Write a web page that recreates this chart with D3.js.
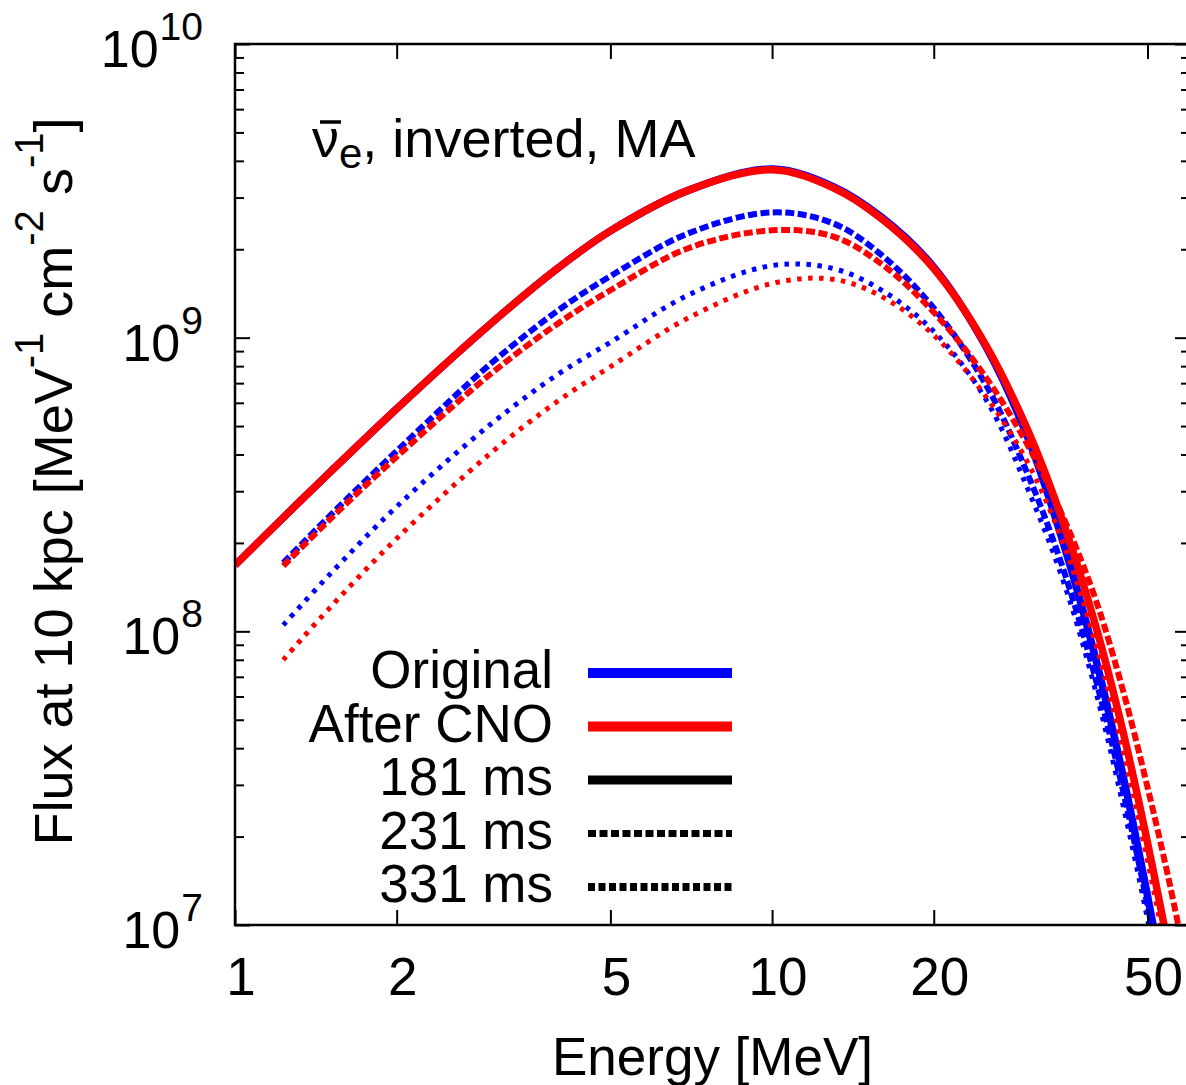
<!DOCTYPE html>
<html><head><meta charset="utf-8">
<script src="https://cdn.jsdelivr.net/npm/d3@7"></script>
<style>
body{margin:0;background:#fff}
text{font-family:"Liberation Sans",Arial,Helvetica,sans-serif;fill:#000}
</style>
</head><body>
<svg id="chart" width="1186" height="1085"></svg>
<script>
// ---------------- data ----------------
const energy181 = [1, 1.23, 1.5, 2, 3, 4, 5, 7, 10, 13, 16, 20, 25, 30, 35, 40, 45, 50, 55, 60];
const energyLate = [1.23, 1.5, 2, 3, 4, 5, 7, 10, 13, 16, 20, 25, 30, 35, 40, 45, 50, 55, 60];

const original181 = [1.68e8, 2.44e8, 3.47e8, 5.73e8, 1.12e9, 1.73e9, 2.31e9, 3.18e9, 3.75e9, 3.27e9, 2.57e9, 1.74e9, 9.33e8, 4.52e8, 1.95e8, 8.13e7, 3.24e7, 1.26e7, 5.01e6, 2.00e6];
const cno181      = [1.68e8, 2.44e8, 3.47e8, 5.73e8, 1.12e9, 1.73e9, 2.31e9, 3.18e9, 3.73e9, 3.24e9, 2.54e9, 1.72e9, 9.44e8, 4.79e8, 2.29e8, 1.05e8, 4.57e7, 1.91e7, 7.94e6, 3.31e6];
const original231 = [1.71e8, 2.47e8, 4.11e8, 8.18e8, 1.24e9, 1.62e9, 2.27e9, 2.67e9, 2.45e9, 1.91e9, 1.26e9, 6.92e8, 3.39e8, 1.59e8, 6.92e7, 2.88e7, 1.17e7, 4.79e6, 1.91e6];
const cno231      = [1.67e8, 2.40e8, 3.93e8, 7.55e8, 1.12e9, 1.45e9, 2.02e9, 2.32e9, 2.21e9, 1.78e9, 1.22e9, 7.33e8, 4.27e8, 2.40e8, 1.29e8, 6.31e7, 2.95e7, 1.38e7, 6.31e6];
const original331 = [1.05e8, 1.56e8, 2.66e8, 5.09e8, 7.52e8, 9.64e8, 1.40e9, 1.76e9, 1.72e9, 1.45e9, 1.05e9, 6.17e8, 3.02e8, 1.45e8, 6.31e7, 2.57e7, 1.05e7, 4.27e6, 1.78e6];
const cno331      = [8.00e7, 1.20e8, 2.07e8, 4.06e8, 6.10e8, 7.96e8, 1.17e9, 1.53e9, 1.58e9, 1.38e9, 1.02e9, 6.31e8, 3.72e8, 1.95e8, 9.12e7, 3.98e7, 1.66e7, 6.92e6, 2.88e6];

const xTickValues = [1, 2, 5, 10, 20, 50];
const xTickLabels = ["1", "2", "5", "10", "20", "50"];
const yDecades = [7, 8, 9, 10];
const legendLabels = ["Original", "After CNO", "181 ms", "231 ms", "331 ms"];
const titleParts = ["ν", "e", ", inverted, MA"];
const xTitle = "Energy [MeV]";

// ---------------- layout ----------------
const svg = d3.select("#chart");
svg.append("rect").attr("width", 1186).attr("height", 1085).attr("fill", "#fff");
const P = {left: 235, top: 44, right: 1190, bottom: 925};
const x = d3.scaleLog().domain([1, 60]).range([P.left, P.right]);
const y = d3.scaleLog().domain([1e7, 1e10]).range([P.bottom, P.top]);
const FS = 53;

const BLUE = "#0000ff", RED = "#ff0000";
const styles = {
  s181: {dash: null, w: 7.5},
  s231: {dash: "9,3.5", w: 6},
  s331: {dash: "4.5,6.5", w: 5}
};
const series = [
  {E: energy181, v: original181, c: BLUE, st: styles.s181},
  {E: energyLate, v: original231, c: BLUE, st: styles.s231},
  {E: energyLate, v: original331, c: BLUE, st: styles.s331},
  {E: energy181, v: cno181, c: RED, st: styles.s181},
  {E: energyLate, v: cno231, c: RED, st: styles.s231},
  {E: energyLate, v: cno331, c: RED, st: styles.s331}
];

svg.append("clipPath").attr("id", "clip").append("rect")
  .attr("x", P.left).attr("y", P.top).attr("width", P.right - P.left).attr("height", P.bottom - P.top);

const line = d3.line().x(d => x(d[0])).y(d => y(d[1])).curve(d3.curveCatmullRom.alpha(0.5));
const gCurves = svg.append("g").attr("clip-path", "url(#clip)");
series.forEach(s => {
  const pts = s.E.map((e, i) => [e, s.v[i]]);
  gCurves.append("path").attr("d", line(pts)).attr("fill", "none")
    .attr("stroke", s.c).attr("stroke-width", s.st.w)
    .attr("stroke-dasharray", s.st.dash).attr("stroke-linejoin", "round");
});

// ---------------- axes / ticks ----------------
const minorY = [];
yDecades.forEach(d => { if (d < 10) for (let k = 2; k <= 9; k++) minorY.push(k * Math.pow(10, d)); });
const majorY = yDecades.map(d => Math.pow(10, d));

function addAxis(gen, tx, ty) {
  const g = svg.append("g").attr("transform", `translate(${tx},${ty})`).call(gen);
  g.select(".domain").remove();
  g.selectAll(".tick line").attr("stroke", "#000").attr("stroke-width", 2);
  g.selectAll(".tick text").remove();
}
addAxis(d3.axisLeft(y).tickValues(majorY).tickSize(-15), P.left, 0);
addAxis(d3.axisLeft(y).tickValues(minorY).tickSize(-9), P.left, 0);
addAxis(d3.axisRight(y).tickValues(majorY).tickSize(-15), P.right, 0);
addAxis(d3.axisRight(y).tickValues(minorY).tickSize(-9), P.right, 0);
addAxis(d3.axisBottom(x).tickValues(xTickValues).tickSize(-15), 0, P.bottom);
addAxis(d3.axisTop(x).tickValues(xTickValues).tickSize(-15), 0, P.top);

svg.append("rect").attr("x", P.left).attr("y", P.top)
  .attr("width", P.right - P.left).attr("height", P.bottom - P.top)
  .attr("fill", "none").attr("stroke", "#000").attr("stroke-width", 2.5);

// y tick labels: 10^n
yDecades.forEach(d => {
  const ty = y(Math.pow(10, d));
  const ex = svg.append("text").attr("x", 203).attr("y", ty - 4)
    .attr("text-anchor", "end").attr("font-size", 39).text(String(d));
  const w = ex.node().getComputedTextLength();
  svg.append("text").attr("x", 203 - w - 1).attr("y", ty + 23)
    .attr("text-anchor", "end").attr("font-size", 52).text("10");
});

// x tick labels
xTickValues.forEach((v, i) => {
  svg.append("text").attr("x", x(v) + 6).attr("y", 995)
    .attr("text-anchor", "middle").attr("font-size", FS).text(xTickLabels[i]);
});

// axis titles
svg.append("text").attr("x", (P.left + P.right) / 2).attr("y", 1075)
  .attr("text-anchor", "middle").attr("font-size", FS).text(xTitle);

const yl = svg.append("text").attr("transform", `translate(72,${(P.top + P.bottom) / 2 - 3}) rotate(-90)`)
  .attr("text-anchor", "middle").attr("font-size", 54);
const yParts = [["Flux at 10 kpc [MeV", 0], ["-1", 1], [" cm", 0], ["-2", 1], [" s", 0], ["-1", 1], ["]", 0]];
let prevSup = false;
yParts.forEach(([t, sup]) => {
  const ts = yl.append("tspan").text(t);
  if (sup) { ts.attr("font-size", 40).attr("dy", prevSup ? 0 : -29); }
  else { ts.attr("font-size", 54).attr("dy", prevSup ? 29 : 0); }
  prevSup = !!sup;
});

// title
const tt = svg.append("text").attr("x", 312).attr("y", 157).attr("font-size", 54);
tt.append("tspan").text(titleParts[0]);
tt.append("tspan").attr("font-size", 42).attr("dy", 11).text(titleParts[1]);
tt.append("tspan").attr("font-size", 54).attr("dy", -11).text(titleParts[2]);
svg.append("line").attr("x1", 320).attr("x2", 341).attr("y1", 122).attr("y2", 122)
  .attr("stroke", "#000").attr("stroke-width", 3.5);

// legend
const legColors = [BLUE, RED, "#000", "#000", "#000"];
const legDash = [null, null, null, "8,3.5", "7,3.5"];
const legW = [10, 10, 9, 7, 8];
legendLabels.forEach((lab, i) => {
  const by = 688 + i * 53.5;
  svg.append("text").attr("x", 553).attr("y", by).attr("text-anchor", "end")
    .attr("font-size", FS).text(lab);
  svg.append("line").attr("x1", 588).attr("x2", 732).attr("y1", by - 15).attr("y2", by - 15)
    .attr("stroke", legColors[i]).attr("stroke-width", legW[i]).attr("stroke-dasharray", legDash[i]);
});
</script>
</body></html>
